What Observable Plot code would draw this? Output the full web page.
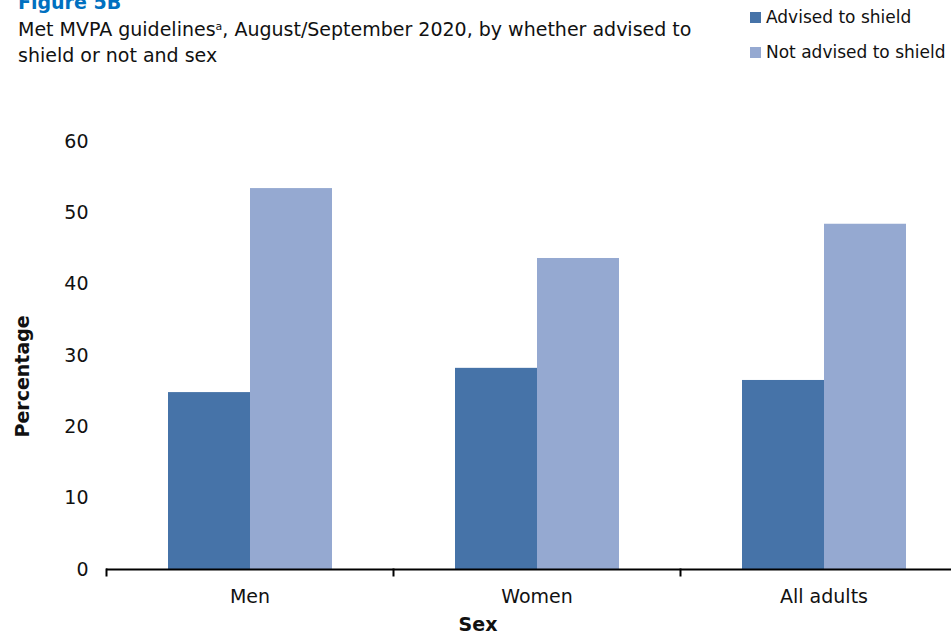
<!DOCTYPE html>
<html>
<head>
<meta charset="utf-8">
<script src="https://cdn.jsdelivr.net/npm/d3@7"></script>
<script src="https://cdn.jsdelivr.net/npm/@observablehq/plot@0.6"></script>
<style>
  html, body { margin: 0; padding: 0; background: #fff; overflow: hidden; width: 951px; height: 639px; }
  #wrap { position: relative; width: 951px; height: 639px; font-family: "DejaVu Sans", sans-serif; color: #111; }
  #fig { position: absolute; left: 18px; top: -9px; font-size: 19px; font-weight: bold; color: #0070C0; }
  #sub { position: absolute; left: 18px; top: 18px; font-size: 19px; line-height: 22px; white-space: nowrap; }
  #sub .sp { font-size: 11px; position: relative; top: -6px; }
  #legend { position: absolute; left: 750px; top: 6px; font-size: 17px; }
  .li { display: flex; align-items: center; height: 22px; margin-bottom: 13px; white-space: nowrap; }
  .sw { width: 11px; height: 11px; margin-right: 5px; }
  #chart { position: absolute; left: 0; top: 120px; width: 970px; }
  #chart svg { max-width: none !important; }
</style>
</head>
<body>
<div id="wrap">
  <div id="fig">Figure 5B</div>
  <div id="sub">Met MVPA guidelines<span class="sp">a</span>, August/September 2020, by whether advised to<br>shield or not and sex</div>
  <div id="legend"></div>
  <div id="chart"></div>
</div>
<script>
const categories = ["Men", "Women", "All adults"];
const seriesNames = ["Advised to shield", "Not advised to shield"];
const advised = [24.8, 28.2, 26.5];
const notAdvised = [53.4, 43.6, 48.4];
const yTicks = [0, 10, 20, 30, 40, 50, 60];
const colors = ["#4673A8", "#95A9D1"];

const data = [];
categories.forEach((c, i) => {
  data.push({category: c, series: seriesNames[0], value: advised[i]});
  data.push({category: c, series: seriesNames[1], value: notAdvised[i]});
});

const legend = document.getElementById("legend");
seriesNames.forEach((s, i) => {
  const row = document.createElement("div");
  row.className = "li";
  row.innerHTML = `<div class="sw" style="background:${colors[i]}"></div><span>${s}</span>`;
  legend.appendChild(row);
});

const font = "DejaVu Sans, sans-serif";
const chart = Plot.plot({
  width: 969,
  height: 519,
  marginLeft: 105,
  marginRight: 2,
  marginTop: 21,
  marginBottom: 70,
  facet: {marginTop: 0, marginBottom: 0, marginLeft: 0, marginRight: 0},
  style: {fontFamily: font, fontSize: "19px", color: "#111", background: "white", overflow: "visible", maxWidth: "none"},
  fx: {domain: categories, padding: 0, label: null, axis: null},
  x: {domain: seriesNames, paddingInner: 0, paddingOuter: 0.75, axis: null},
  y: {domain: [0, 60], label: null, axis: null},
  color: {domain: seriesNames, range: colors},
  marks: [
    Plot.barY(data, {fx: "category", x: "series", y: "value", fill: "series"}),
    Plot.axisY({ticks: yTicks, tickSize: 0, tickPadding: 18, label: null, fontSize: 19}),
    Plot.axisFx({anchor: "bottom", tickSize: 0, tickPadding: 20, label: null, fontSize: 19}),
    Plot.ruleY([0], {stroke: "#000", strokeWidth: 2}),
    Plot.frame({anchor: "left", stroke: "#000", strokeWidth: 2, insetTop: 428, insetBottom: -6}),
    Plot.text(["Percentage"], {facet: "super", frameAnchor: "left", rotate: -90, dx: -84, dy: 82, fontWeight: "bold", fontSize: 19, fill: "#111"}),
    Plot.text(["Sex"], {facet: "super", frameAnchor: "bottom", dx: -59, dy: 61, fontWeight: "bold", fontSize: 19, fill: "#111"})
  ]
});
document.getElementById("chart").appendChild(chart);
</script>
</body>
</html>
